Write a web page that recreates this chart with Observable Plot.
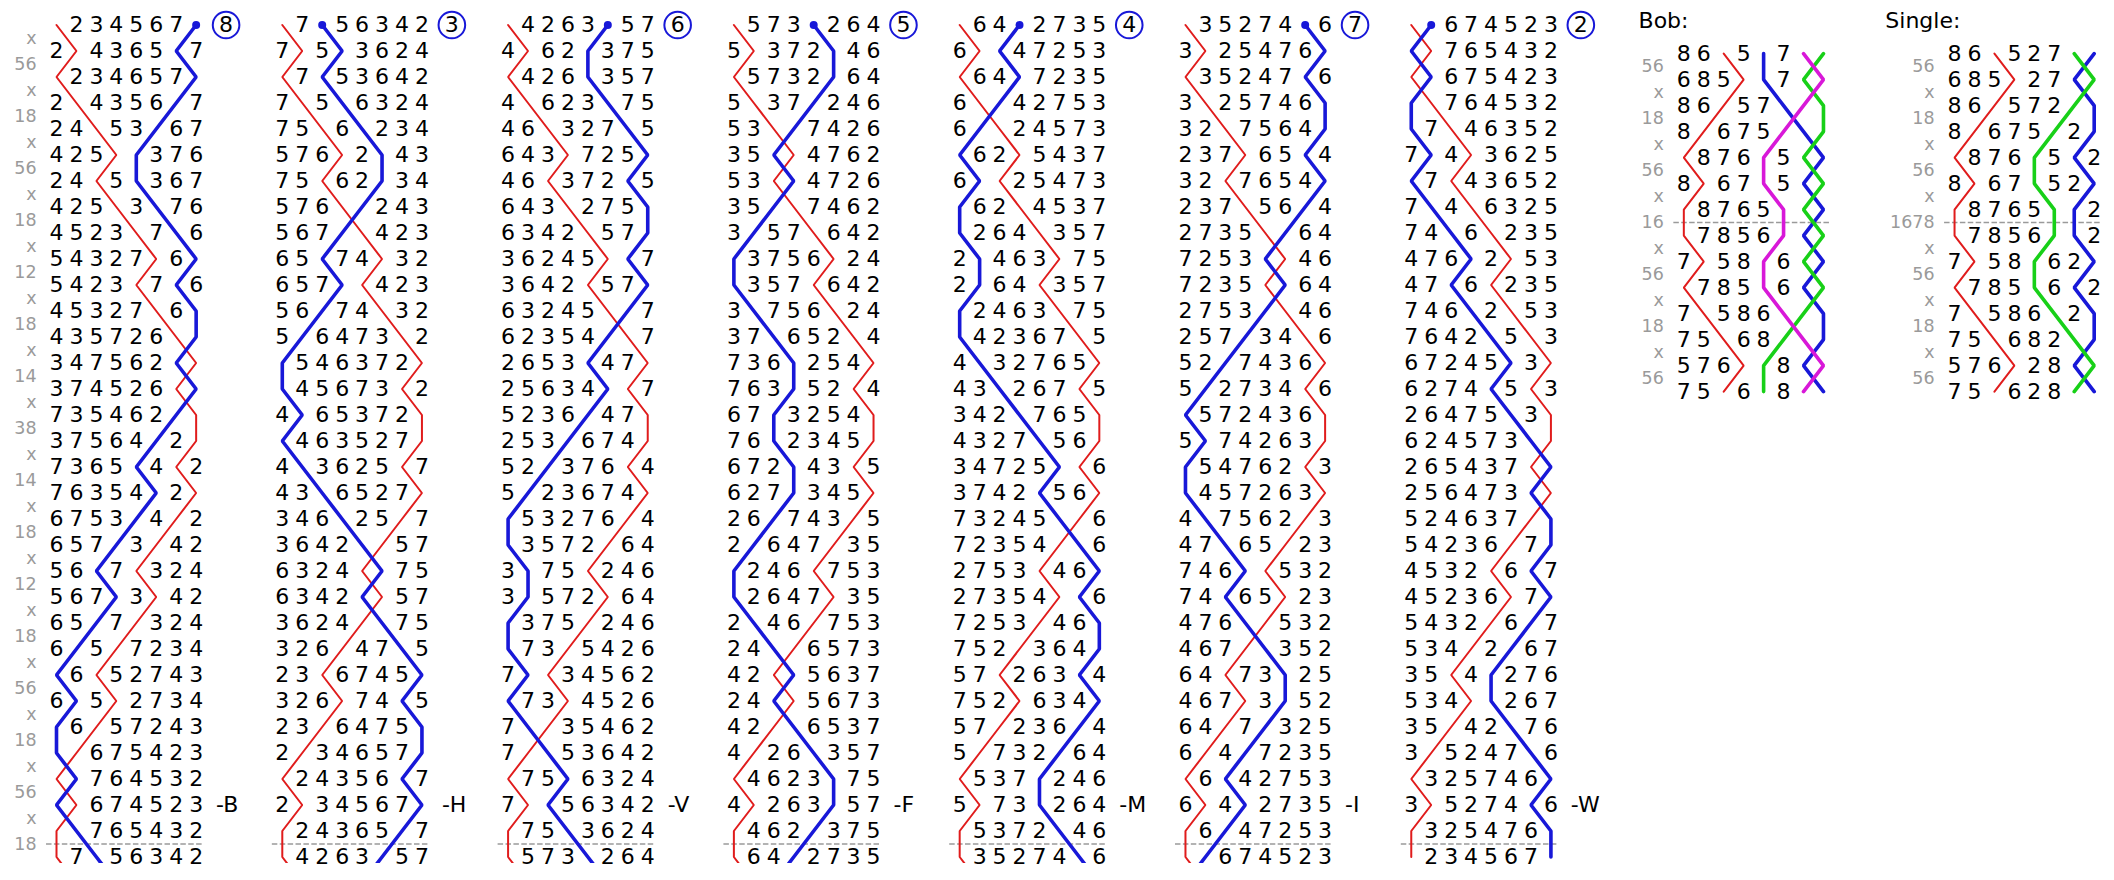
<!DOCTYPE html>
<html><head><meta charset="utf-8">
<script src="https://cdn.jsdelivr.net/npm/d3@7"></script>
<script src="https://cdn.jsdelivr.net/npm/@observablehq/plot@0.6"></script>
<style>body{margin:0;background:#fff}</style>
</head><body><div id="chart"></div><script>
// ---- data: rows of the plain course, one array per lead ----
const lead1 = ["12345678","21436587","12346578","21435687","24153867","42518376","24158367","42513876","45231786","54327168","54231786","45327168","43572618","34756281","37452618","73546281","37564821","73658412","76354821","67538412","65783142","56871324","56783142","65871324","68517234","86152743","68512734","86157243","81675423","18764532","81674523","18765432","17856342"];
const lead2 = ["17856342","71583624","17853642","71586324","75168234","57612843","75162834","57618243","56781423","65874132","65781423","56874132","58647312","85463721","84567312","48653721","84635271","48362517","43865271","34682517","36428157","63241875","63428157","36241875","32614785","23167458","32617485","23164758","21346578","12435687","21345678","12436587","14263857"];
const lead3 = ["14263857","41628375","14268357","41623875","46132785","64317258","46137285","64312758","63421578","36245187","36421578","63245187","62354817","26538471","25634817","52368471","25386741","52837614","58236741","85327614","83572164","38751246","38572164","83751246","87315426","78134562","87314526","78135462","71853642","17586324","71856342","17583624","15738264"];
const lead4 = ["15738264","51372846","15732864","51378246","53187426","35814762","53184726","35817462","38571642","83756124","83571642","38756124","37865214","73682541","76385214","67832541","76823451","67284315","62783451","26874315","28647135","82461753","82647135","28461753","24816573","42185637","24815673","42186537","41268357","14623875","41263857","14628375","16482735"];
const lead5 = ["16482735","61847253","16487235","61842753","68124573","86215437","68125473","86214537","82641357","28463175","28641357","82463175","84236715","48327651","43826715","34287651","43278561","34725816","37428561","73245816","72354186","27531468","27354186","72531468","75213648","57126384","75216348","57123684","51732864","15378246","51738264","15372846","13527486"];
const lead6 = ["13527486","31254768","13524786","31257468","32175648","23716584","32176548","23715684","27351864","72538146","72351864","27538146","25783416","52874361","58273416","85724361","58742631","85476213","84572631","48756213","47865123","74681532","74865123","47681532","46718352","64173825","46713852","64178325","61487235","16842753","61482735","16847253","18674523"];
const lead7 = ["18674523","81765432","18675423","81764532","87146352","78413625","87143652","78416325","74861235","47682153","47861235","74682153","76428513","67245831","62748513","26475831","62457381","26543718","25647381","52463718","54236178","45321687","45236178","54321687","53412867","35148276","53418267","35142876","31524786","13257468","31527486","13254768","12345678"];
const placeNotation = ["x","56","x","18","x","56","x","18","x","12","x","18","x","14","x","38","x","14","x","18","x","12","x","18","x","56","x","18","x","56","x","18"];
const callLabels = ["-B","-H","-V","-F","-M","-I","-W"];
const startPlaces = ["8","3","6","5","4","7","2"];
const bobRows = ["86152743","68512734","86157243","81675423","18764532","81674523","18765432","17856423","71584632","17854623","71586432","75168342","57613824","75163842"];
const bobNotation = ["56","x","18","x","56","x","16","x","56","x","18","x","56"];
const singleRows = ["86152743","68512734","86157243","81675423","18764532","81674523","18765432","17856432","71584623","17854632","71586423","75168243","57612834","75162843"];
const singleNotation = ["56","x","18","x","56","x","1678","x","56","x","18","x","56"];

// ---- layout / style ----
const FONT = "DejaVu Sans";
const RED = "#e01c1c", BLUE = "#1818d8", GREEN = "#18d018", MAGENTA = "#d818d8", GREY = "#9a9a9a";
const COL_STEP = 11.318;       // distance between lead columns (in places)
const BOB_X = 81.57, SINGLE_X = 95.14, SIDE_Y = 1.1;

const leads = [lead1, lead2, lead3, lead4, lead5, lead6, lead7];

const digits = [], redLines = [], colLines = [], labels = [], dashes = [], calls = [], circles = [], dots = [];

function addDigits(rows, hidden, xo, yo) {
  rows.forEach((r, j) => [...r].forEach((b, p) => {
    if (!hidden.includes(b)) digits.push({x: xo + p, y: yo + j, t: b});
  }));
}
function trace(rows, bell, xo, yo, key, color, target) {
  rows.forEach((r, j) => target.push({x: xo + r.indexOf(bell), y: yo + j, key, color}));
}

leads.forEach((rows, k) => {
  const xo = k * COL_STEP;
  addDigits(rows, "18", xo, 0);
  const ext = k < leads.length - 1 ? rows.concat([leads[k + 1][1]]) : rows;
  trace(ext, "1", xo, 0, "t" + k, RED, redLines);
  trace(ext, "8", xo, 0, "w" + k, BLUE, colLines);
  dashes.push({x1: xo - 0.5, x2: xo + 7.4, y: rows.length - 1.5});
  calls.push({x: xo + 8, y: rows.length - 3, t: callLabels[k]});
  circles.push({x: xo + 8.5, y: 0, t: startPlaces[k]});
  dots.push({x: xo + rows[0].indexOf("8"), y: 0});
});
placeNotation.forEach((pn, i) => labels.push({x: -1, y: i + 0.5, t: pn}));

// Bob panel
addDigits(bobRows, "1234", BOB_X, SIDE_Y);
trace(bobRows, "1", BOB_X, SIDE_Y, "bt", RED, redLines);
trace(bobRows, "2", BOB_X, SIDE_Y, "b2", BLUE, colLines);
trace(bobRows, "3", BOB_X, SIDE_Y, "b3", GREEN, colLines);
trace(bobRows, "4", BOB_X, SIDE_Y, "b4", MAGENTA, colLines);
bobNotation.forEach((pn, i) => labels.push({x: BOB_X - 1, y: SIDE_Y + i + 0.5, t: pn}));
dashes.push({x1: BOB_X - 0.5, x2: BOB_X + 7.4, y: SIDE_Y + 6.5});

// Single panel
addDigits(singleRows, "134", SINGLE_X, SIDE_Y);
trace(singleRows, "1", SINGLE_X, SIDE_Y, "st", RED, redLines);
trace(singleRows, "3", SINGLE_X, SIDE_Y, "s3", BLUE, colLines);
trace(singleRows, "4", SINGLE_X, SIDE_Y, "s4", GREEN, colLines);
singleNotation.forEach((pn, i) => labels.push({x: SINGLE_X - 1, y: SIDE_Y + i + 0.5, t: pn}));
dashes.push({x1: SINGLE_X - 0.5, x2: SINGLE_X + 7.4, y: SIDE_Y + 6.5});

const titles = [{x: BOB_X - 2.27, y: -0.17, t: "Bob:"}, {x: SINGLE_X - 3.47, y: -0.17, t: "Single:"}];

const chart = Plot.plot({
  width: 2114, height: 880,
  marginTop: 0, marginLeft: 0, marginRight: 0, marginBottom: 17,
  x: {domain: [0, 100], range: [56, 56 + 1995], axis: null},
  y: {domain: [0, 32], range: [24.5, 856.5], axis: null},
  color: {type: "identity"},
  style: {background: "white", fontFamily: FONT},
  marks: [
    Plot.ruleY(dashes, {y: "y", x1: "x1", x2: "x2", stroke: GREY, strokeWidth: 1.5, strokeDasharray: "5.5,2.4"}),
    Plot.line(redLines, {x: "x", y: "y", z: "key", stroke: RED, strokeWidth: 2, clip: true, strokeLinejoin: "miter"}),
    Plot.line(colLines, {x: "x", y: "y", z: "key", stroke: "color", strokeWidth: 3.6, clip: true, strokeLinejoin: "miter"}),
    Plot.dot(dots, {x: "x", y: "y", r: 4, fill: BLUE, stroke: null}),
    Plot.dot(circles, {x: "x", y: "y", r: 13.3, stroke: BLUE, strokeWidth: 2, fill: "white"}),
    Plot.text(circles, {x: "x", y: "y", text: "t", fontSize: 22, fill: "black", fontFamily: FONT}),
    Plot.text(digits, {x: "x", y: "y", text: "t", fontSize: 22, fill: "black", fontFamily: FONT}),
    Plot.text(labels, {x: "x", y: "y", text: "t", fontSize: 17.5, fill: GREY, textAnchor: "end", fontFamily: FONT}),
    Plot.text(calls, {x: "x", y: "y", text: "t", fontSize: 22, fill: "black", textAnchor: "start", fontFamily: FONT}),
    Plot.text(titles, {x: "x", y: "y", text: "t", fontSize: 22, fill: "black", textAnchor: "start", fontFamily: FONT})
  ]
});
document.getElementById("chart").appendChild(chart);
</script></body></html>
